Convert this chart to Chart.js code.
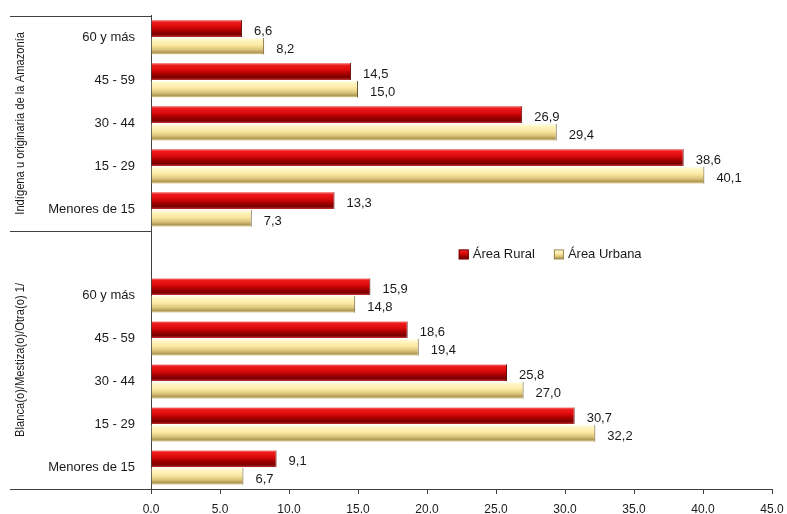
<!DOCTYPE html>
<html>
<head>
<meta charset="utf-8">
<script src="https://cdn.jsdelivr.net/npm/chart.js@4.4.1/dist/chart.umd.min.js"></script>
<style>
html, body { margin: 0; padding: 0; background: #fff; }
#wrap { width: 787px; height: 514px; }
</style>
</head>
<body>
<div id="wrap"><canvas id="myChart" width="787" height="514"></canvas></div>
<script>
var ageGroups = ['60 y más', '45 - 59', '30 - 44', '15 - 29', 'Menores de 15'];
var groupNames = ['Indígena u originaria de la Amazonía', 'Blanca(o)/Mestiza(o)/Otra(o) 1/'];
var seriesNames = ['Área Rural', 'Área Urbana'];
var ruralIndigena = [6.6, 14.5, 26.9, 38.6, 13.3];
var urbanaIndigena = [8.2, 15.0, 29.4, 40.1, 7.3];
var ruralBlanca = [15.9, 18.6, 25.8, 30.7, 9.1];
var urbanaBlanca = [14.8, 19.4, 27.0, 32.2, 6.7];
var xMin = 0, xMax = 45, xStep = 5;

var FONT = '"Liberation Sans", Arial, sans-serif';
var TEXT = '#1a1a1a';
var LINE = '#404040';

// una categoria vacia entre los dos grupos (ahi va la leyenda)
var labels = ageGroups.concat(['']).concat(ageGroups);
var ruralData = ruralIndigena.concat([null]).concat(ruralBlanca);
var urbanaData = urbanaIndigena.concat([null]).concat(urbanaBlanca);

function redGradient(ctx, top, h) {
    var g = ctx.createLinearGradient(0, top, 0, top + h);
    g.addColorStop(0, '#f5a0a0');
    g.addColorStop(0.12, '#ee1c1c');
    g.addColorStop(0.4, '#dc0a0a');
    g.addColorStop(0.65, '#a40000');
    g.addColorStop(0.85, '#7a0000');
    g.addColorStop(1, '#c43030');
    return g;
}
function beigeGradient(ctx, top, h) {
    var g = ctx.createLinearGradient(0, top, 0, top + h);
    g.addColorStop(0, '#fffef0');
    g.addColorStop(0.15, '#fff6c4');
    g.addColorStop(0.45, '#fbe8a0');
    g.addColorStop(0.7, '#dcc47a');
    g.addColorStop(0.88, '#b09856');
    g.addColorStop(1, '#e8dcae');
    return g;
}

// degradado tipo cilindro en cada barra
var barShade = {
    id: 'barShade',
    beforeDatasetsDraw: function(chart) {
        var ctx = chart.ctx;
        chart.data.datasets.forEach(function(ds, i) {
            var meta = chart.getDatasetMeta(i);
            meta.data.forEach(function(bar, j) {
                if (ds.data[j] === null) return;
                var top = bar.y - bar.height / 2;
                var g = i === 0 ? redGradient(ctx, top, bar.height) : beigeGradient(ctx, top, bar.height);
                bar.options = Object.assign({}, bar.options, {backgroundColor: g});
            });
        });
    }
};

// etiquetas de valor al final de cada barra
var valueLabels = {
    id: 'valueLabels',
    afterDatasetsDraw: function(chart) {
        var ctx = chart.ctx;
        ctx.save();
        ctx.font = '13px ' + FONT;
        ctx.fillStyle = TEXT;
        ctx.textAlign = 'left';
        ctx.textBaseline = 'middle';
        chart.data.datasets.forEach(function(ds, i) {
            var meta = chart.getDatasetMeta(i);
            meta.data.forEach(function(bar, j) {
                var v = ds.data[j];
                if (v === null) return;
                ctx.fillText(v.toFixed(1).replace('.', ','), bar.x + 12, bar.y + 3);
            });
        });
        ctx.restore();
    }
};

// cajas de grupo a la izquierda y leyenda en el hueco
var groupBoxes = {
    id: 'groupBoxes',
    afterDraw: function(chart) {
        var ctx = chart.ctx;
        var area = chart.chartArea;
        var y = chart.scales.y;
        var half = y.height / labels.length / 2;
        var left = chart.options.layout.padding.left;
        var split = y.getPixelForValue(ageGroups.length - 1) + half;

        ctx.save();
        ctx.strokeStyle = LINE;
        ctx.lineWidth = 1;
        [area.top, split, area.bottom].forEach(function(py) {
            py = Math.round(py) + 0.5;
            ctx.beginPath();
            ctx.moveTo(left, py);
            ctx.lineTo(area.left, py);
            ctx.stroke();
        });

        ctx.font = '13px ' + FONT;
        ctx.fillStyle = TEXT;
        ctx.textAlign = 'center';
        ctx.textBaseline = 'middle';
        var spans = [[area.top, split], [split, area.bottom]];
        groupNames.forEach(function(name, k) {
            ctx.save();
            ctx.translate(left + 10, (spans[k][0] + spans[k][1]) / 2);
            ctx.rotate(-Math.PI / 2);
            ctx.scale(0.86, 1);   // texto algo condensado como el original
            ctx.fillText(name, 0, 0);
            ctx.restore();
        });

        // leyenda
        var ly = y.getPixelForValue(ageGroups.length) + 2;
        var lx = chart.scales.x.getPixelForValue(22.3);
        ctx.textAlign = 'left';
        var colors = [redGradient, beigeGradient];
        seriesNames.forEach(function(name, k) {
            ctx.fillStyle = colors[k](ctx, ly - 5, 10);
            ctx.fillRect(lx, ly - 5, 10, 10);
            ctx.strokeStyle = k === 0 ? '#700000' : '#9a8650';
            ctx.strokeRect(lx + 0.5, ly - 4.5, 9, 9);
            ctx.fillStyle = TEXT;
            ctx.fillText(name, lx + 14, ly);
            lx += 14 + ctx.measureText(name).width + 19;
        });
        ctx.restore();
    }
};

var ctx = document.getElementById('myChart').getContext('2d');
var myChart = new Chart(ctx, {
    type: 'bar',
    data: {
        labels: labels,
        datasets: [{
            label: seriesNames[0],
            data: ruralData,
            backgroundColor: '#d00000',
            borderColor: '#5a0000',
            borderWidth: {top: 0, right: 1, bottom: 0, left: 0},
            borderSkipped: false,
            categoryPercentage: 0.82,
            barPercentage: 0.96
        }, {
            label: seriesNames[1],
            data: urbanaData,
            backgroundColor: '#fbe9a6',
            borderColor: '#6a5a30',
            borderWidth: {top: 0, right: 1, bottom: 0, left: 0},
            borderSkipped: false,
            categoryPercentage: 0.82,
            barPercentage: 0.96
        }]
    },
    options: {
        indexAxis: 'y',
        responsive: false,
        animation: false,
        devicePixelRatio: 1,
        layout: {padding: {left: 10, right: 0, top: 6, bottom: 0}},
        scales: {
            x: {
                min: xMin,
                max: xMax,
                ticks: {
                    stepSize: xStep,
                    padding: 8,
                    color: TEXT,
                    font: {family: FONT, size: 12},
                    callback: function(v) { return Number(v).toFixed(1); }
                },
                grid: {drawOnChartArea: false, drawTicks: true, tickLength: 5, color: LINE},
                border: {color: LINE},
                afterFit: function(scale) {
                    scale.height = 25;
                    scale.paddingRight = 15;
                }
            },
            y: {
                ticks: {
                    padding: 8,
                    color: TEXT,
                    font: {family: FONT, size: 13},
                    autoSkip: false
                },
                grid: {display: false},
                border: {color: LINE},
                afterFit: function(scale) { scale.width = 141; }
            }
        },
        plugins: {
            legend: {display: false},
            tooltip: {enabled: false}
        }
    },
    plugins: [barShade, valueLabels, groupBoxes]
});
</script>
</body>
</html>
